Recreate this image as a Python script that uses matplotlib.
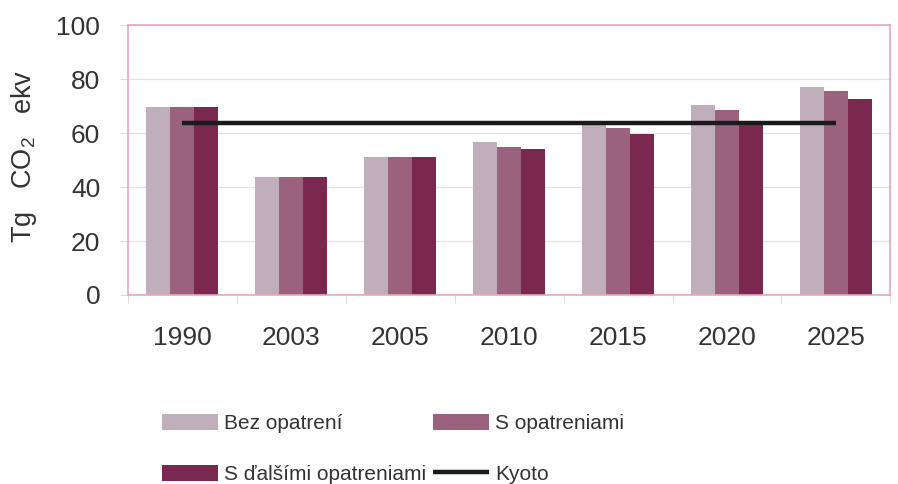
import matplotlib
matplotlib.use("Agg")
import matplotlib.pyplot as plt
import numpy as np

plt.rcParams['font.family'] = ['Liberation Sans', 'DejaVu Sans']
plt.rcParams['mathtext.fontset'] = 'custom'
plt.rcParams['mathtext.rm'] = 'Liberation Sans'

years = ["1990", "2003", "2005", "2010", "2015", "2020", "2025"]
bez_opatreni = [69.5, 43.8, 51.0, 56.5, 63.3, 70.4, 77.2]
s_opatreniami = [69.5, 43.8, 51.0, 54.8, 61.7, 68.5, 75.4]
s_dalsimi = [69.5, 43.8, 51.0, 54.0, 59.6, 63.5, 72.5]
kyoto = [63.6] * 7
series_labels = ["Bez opatrení", "S opatreniami", "S ďalšími opatreniami", "Kyoto"]
yticks = [0, 20, 40, 60, 80, 100]

colors = ["#c0aeba", "#9b627e", "#7a2850"]
pink = "#e6a7bf"
text_col = "#333333"

fig = plt.figure(figsize=(8.98, 4.84), dpi=100)
ax = fig.add_axes([0.1425, 0.3905, 0.849, 0.5578])

x = np.arange(len(years))
w = 0.22
b1 = ax.bar(x - w, bez_opatreni, w, color=colors[0], label=series_labels[0], zorder=2)
b2 = ax.bar(x, s_opatreniami, w, color=colors[1], label=series_labels[1], zorder=2)
b3 = ax.bar(x + w, s_dalsimi, w, color=colors[2], label=series_labels[2], zorder=2)
ln, = ax.plot(x, kyoto, color="#1a1a1a", lw=3.2, label=series_labels[3], zorder=3,
              solid_capstyle='butt')

ax.set_xlim(-0.5, 6.35)
ax.set_ylim(0, 100)
ax.set_yticks(yticks)
ax.set_yticklabels([str(v) for v in yticks])
ax.set_xticks(x)
ax.set_xticklabels(years)
ax.set_xticks(np.arange(-0.5, 6.6, 1.0), minor=True)
ax.tick_params(axis='x', which='major', length=0, pad=22, labelsize=19, colors=text_col)
ax.tick_params(axis='x', which='minor', length=6, color="#dddddd", width=0.8)
ax.tick_params(axis='y', which='major', length=6, color="#dddddd", width=0.8,
               labelsize=19, colors=text_col, pad=14)
ax.grid(axis='y', color="#e2e2e2", lw=0.9, zorder=0)
ax.set_axisbelow(True)
for s in ax.spines.values():
    s.set_color(pink)
    s.set_linewidth(1.2)

fig.text(0.027, 0.677, r"Tg   CO$_2$   ekv", rotation=90, ha='center', va='center',
         fontsize=19.5, color=text_col)

fig.legend([b1, b3, b2, ln],
           [series_labels[0], series_labels[2], series_labels[1], series_labels[3]],
           ncol=2, loc='upper left', bbox_to_anchor=(0.18, 0.145),
           frameon=False, fontsize=15, handlelength=2.7, handleheight=0.85,
           handletextpad=0.3, columnspacing=0.3, labelspacing=1.5,
           borderaxespad=0, borderpad=0, labelcolor=text_col)

fig.savefig("out.png", dpi=100)
